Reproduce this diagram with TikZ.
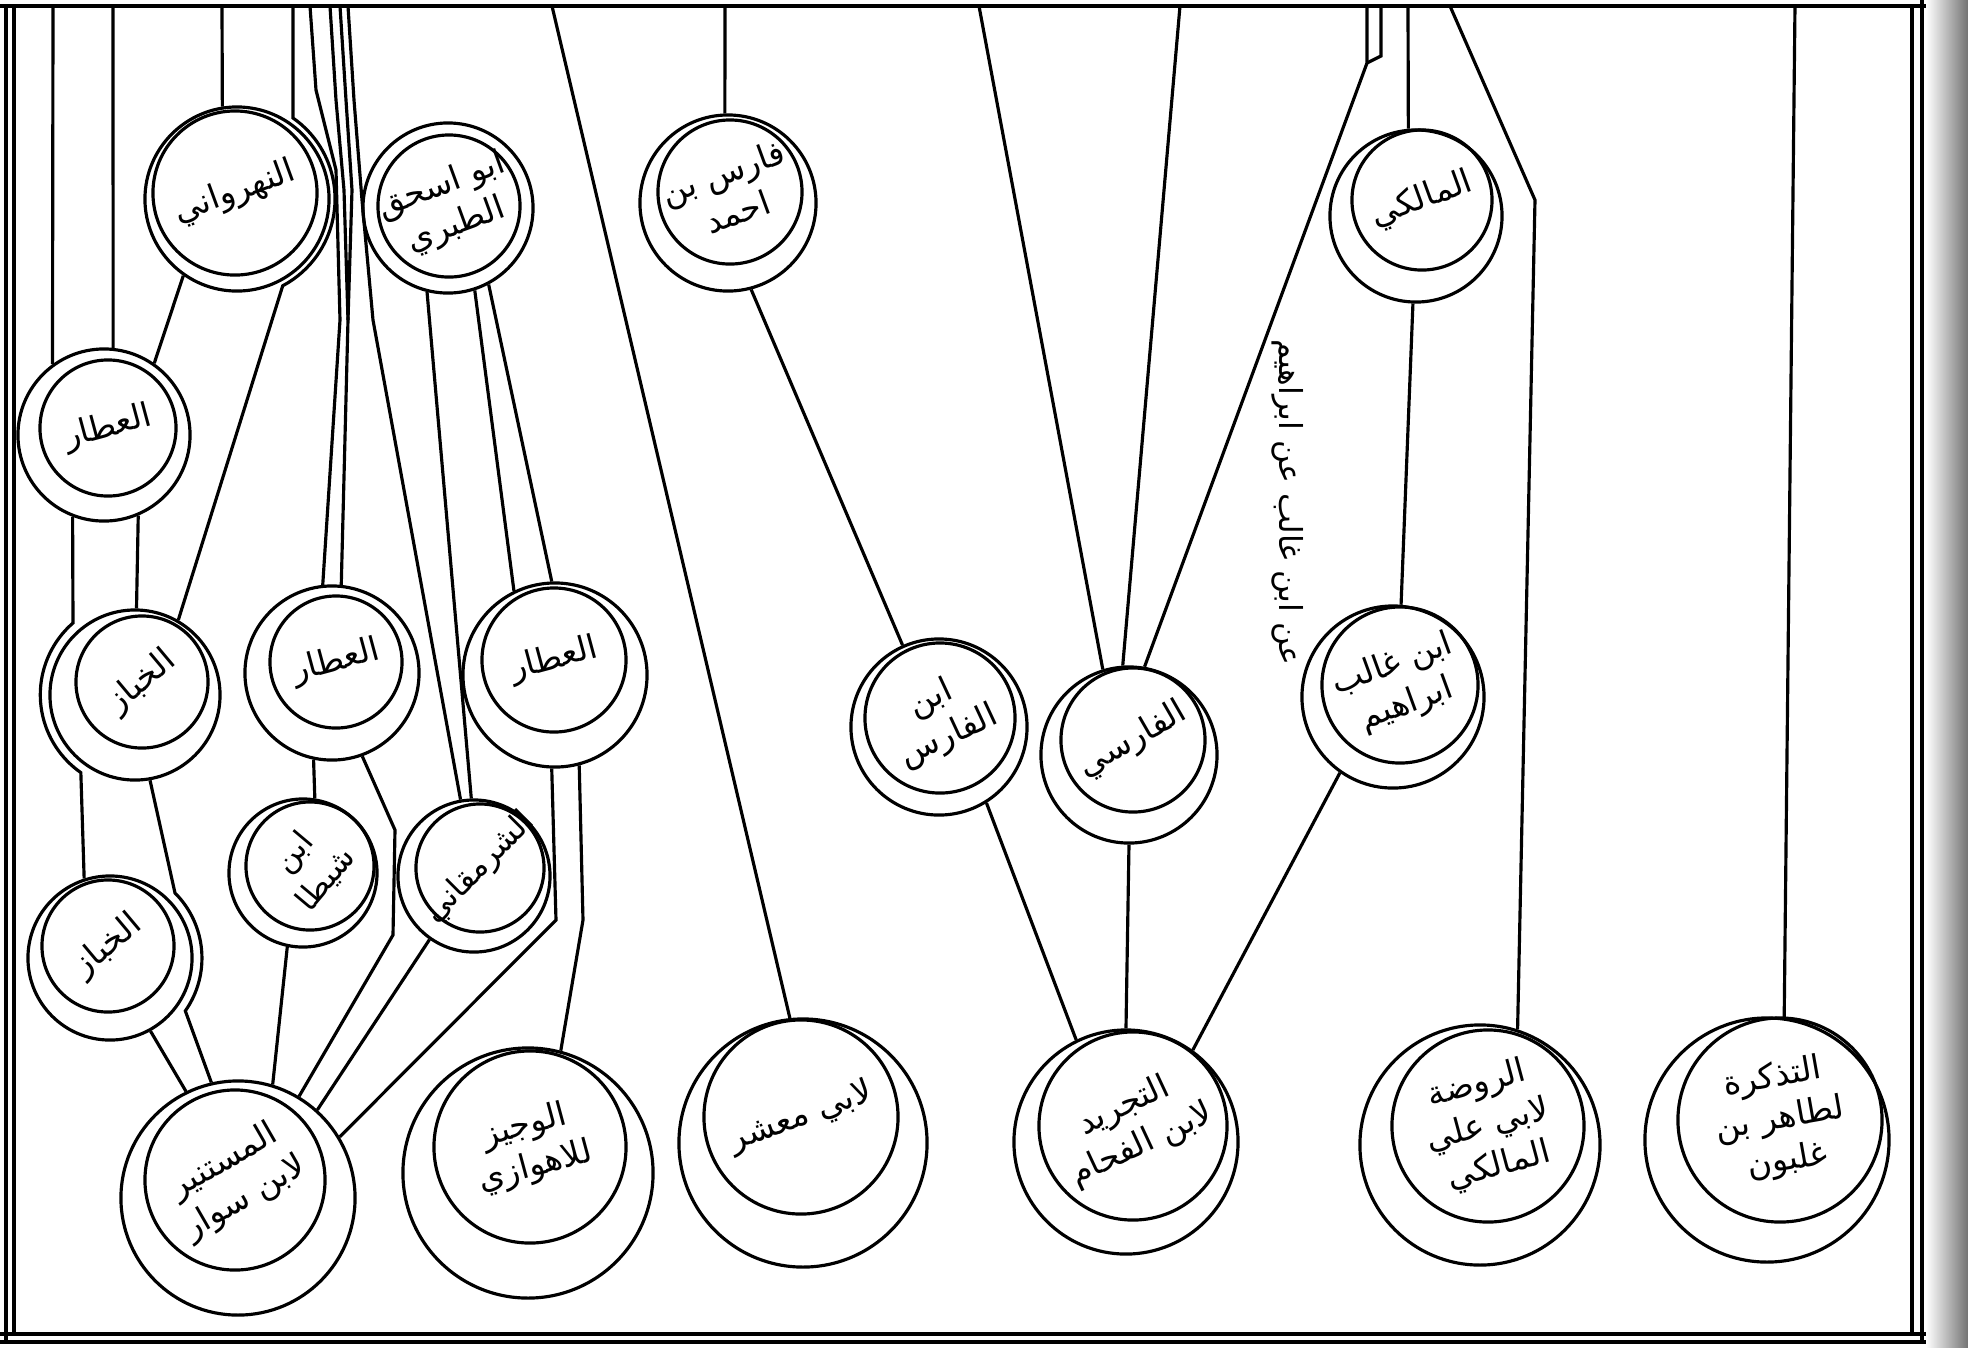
\documentclass[tikz,border=0pt]{standalone}
\usepackage{fontspec}
\newfontfamily\arabicfont[Script=Arabic]{DejaVu Sans}
\TeXXeTstate=1
\newcommand\ar[1]{\beginR #1\endR}
\newcommand\rondel[9]{%
  \node[ring, minimum size=#4] (#1) at (#2,#3) {};
  \node[ring, minimum size=#7] (#1i) at (#5,#6) {};
  \node[lbl, rotate=#9] (#1t) at (#5,#6) {#8};
}
\begin{document}
\begin{tikzpicture}[x=0.01cm,y=-0.01cm,
  ring/.style={draw, circle, inner sep=0pt, line width=0.9pt},
  lbl/.style={font=\arabicfont\fontsize{9.5}{12}\selectfont, align=center, inner sep=0pt},
  big/.style={font=\arabicfont\fontsize{10.5}{13.5}\selectfont},
  small/.style={font=\arabicfont\fontsize{8.5}{10.5}\selectfont},
  link/.style={line width=0.9pt},
  frame/.style={line width=1pt}]
\useasboundingbox (0,0) rectangle (1968,1347);
% scan edge
\shade[left color=white, right color=black!55] (1926,0) rectangle (1968,1347);
% frame
\draw[frame] (0,6) -- (1926,6);
\draw[frame] (6,6) -- (6,1342);
\draw[frame] (14,6) -- (14,1334);
\draw[frame] (0,1334) -- (1926,1334);
\draw[frame] (0,1342) -- (1926,1342);
\draw[frame] (1912,6) -- (1912,1334);
\draw[frame] (1922,0) -- (1922,1342);

% nodes
\rondel{nah}{237}{199}{1.84cm}{235}{193}{1.64cm}{\ar{النهرواني}}{20}
\rondel{tab}{448}{208}{1.70cm}{449}{206}{1.42cm}{\ar{ابو اسحق}\\\ar{الطبري}}{20}
\rondel{far}{728}{203}{1.76cm}{730}{192}{1.44cm}{\ar{فارس بن}\\\ar{احمد}}{20}
\rondel{mal}{1416}{216}{1.72cm}{1422}{200}{1.40cm}{\ar{المالكي}}{20}
\rondel{att1}{104}{435}{1.72cm}{108}{428}{1.36cm}{\ar{العطار}}{15}
\rondel{khb1}{135}{695}{1.70cm}{142}{682}{1.32cm}{\ar{الخباز}}{40}
\rondel{att2}{332}{673}{1.74cm}{336}{662}{1.32cm}{\ar{العطار}}{15}
\rondel{att3}{555}{675}{1.84cm}{554}{660}{1.44cm}{\ar{العطار}}{15}
\rondel{ibf}{939}{727}{1.76cm}{940}{718}{1.50cm}{\ar{ابن}\\\ar{الفارس}}{25}
\rondel{frs}{1129}{755}{1.76cm}{1133}{740}{1.44cm}{\ar{الفارسي}}{30}
\rondel{ghl}{1393}{697}{1.82cm}{1400}{685}{1.56cm}{\ar{ابن غالب}\\\ar{ابراهيم}}{20}
\rondel{shy}{303}{873}{1.48cm}{310}{866}{1.28cm}{\small\ar{ابن}\\\small\ar{شيطا}}{50}
\rondel{shr}{474}{876}{1.52cm}{480}{868}{1.28cm}{\small\ar{الشرمقاني}}{45}
\rondel{khb2}{110}{958}{1.64cm}{108}{946}{1.32cm}{\ar{الخباز}}{40}
\rondel{mus}{238}{1198}{2.34cm}{235}{1180}{1.80cm}{\ar{المستنير}\\\ar{لابن سوار}}{30}
\rondel{waj}{528}{1173}{2.50cm}{530}{1147}{1.92cm}{\ar{الوجيز}\\\ar{للاهوازي}}{15}
\rondel{mas}{803}{1143}{2.48cm}{801}{1117}{1.94cm}{\ar{لابي معشر}}{20}
\rondel{fah}{1126}{1142}{2.24cm}{1133}{1126}{1.88cm}{\ar{التجريد}\\\ar{لابن الفحام}}{25}
\rondel{raw}{1480}{1145}{2.40cm}{1488}{1126}{1.92cm}{\ar{الروضة}\\\ar{لابي علي}\\\ar{المالكي}}{15}
\rondel{tad}{1767}{1140}{2.44cm}{1780}{1120}{2.04cm}{\ar{التذكرة}\\\ar{لطاهر بن}\\\ar{غلبون}}{10}

% vertical note
\node[font=\arabicfont\fontsize{9}{11}\selectfont, rotate=-90, inner sep=0pt] (note) at (1288,502) {\ar{عن ابن غالب عن ابراهيم}};

% free ends on the top border
\foreach \n/\x in {t1/53,t2/113,t3/222,t4/293,t5/310,t6/330,t7/340,t8/348,t9/552,t10/725,t11/979,t12/1180,t13/1367,t14/1381,t15/1408,t16/1450,t17/1795}
  \coordinate (\n) at (\x,6);
% bend points
\coordinate (b4) at (293,118);
\coordinate (b5a) at (316,90);  \coordinate (b5b) at (336,170); \coordinate (b5c) at (340,320);
\coordinate (b6a) at (336,100); \coordinate (b6b) at (344,190); \coordinate (b6c) at (348,320);
\coordinate (b7a) at (346,100); \coordinate (b7b) at (352,190);
\coordinate (b8a) at (354,100); \coordinate (b8b) at (362,200); \coordinate (b8c) at (373,320);
\coordinate (b1a) at (73,623);
\coordinate (b22) at (175,893);
\coordinate (b13) at (1367,63);
\coordinate (b14) at (1381,56);
\coordinate (b16) at (1535,200);
\coordinate (b26a) at (395,830); \coordinate (b26b) at (393,935);
\coordinate (b28) at (556,920);
\coordinate (b29) at (583,920);

% connectors, left group
\draw[link] (t1) -- (att1.126);
\draw[link] (t2) -- (att1.84);
\draw[link] (nah.235) -- (att1.55);
\draw[link] (t3) -- (nah.99);
\draw[link] (t4) -- (b4) arc[start angle=55, end angle=-62, radius=0.985cm] -- (khb1.60);
\draw[link] (t5) -- (b5a) -- (b5b) -- (b5c) -- (att2.96);
\draw[link] (t6) -- (b6a) -- (b6b) -- (b6c) -- (att2.84);
\draw[link] (t7) -- (b7a) -- (b7b) -- (b6c);
\draw[link] (t8) -- (b8a) -- (b8b) -- (b8c) -- (shr.100);
\draw[link] (tab.-104) -- (shr.92);
\draw[link] (tab.-72) -- (att3.116);
\draw[link] (tab.-62) -- (att3.92);
\draw[link] (att1.-67) -- (khb1.89);
\draw[link] (att1.-111) -- (b1a) arc[start angle=131, end angle=235, radius=0.95cm] -- (khb2.108);
\draw[link] (khb1.-80) -- (b22) arc[start angle=45, end angle=-35, radius=0.92cm] -- (mus.103);
\draw[link] (khb2.-61) -- (mus.116);
\draw[link] (att2.-102) -- (shy.81);
\draw[link] (shy.-102) -- (mus.73);
\draw[link] (att2.-70) -- (b26a) -- (b26b) -- (mus.59);
\draw[link] (shr.-125) -- (mus.48);
\draw[link] (att3.-92) -- (b28) -- (mus.31);
\draw[link] (att3.-75) -- (b29) -- (waj.75);
\draw[link] (t9) -- (mas.96);

% connectors, right group
\draw[link] (t10) -- (far.92);
\draw[link] (far.-75) -- (ibf.114);
\draw[link] (t11) -- (frs.107);
\draw[link] (t12) -- (frs.94);
\draw[link] (t13) -- (b13) -- (frs.80);
\draw[link] (t14) -- (b14) -- (b13);
\draw[link] (t15) -- (mal.95);
\draw[link] (mal.-92) -- (ghl.85);
\draw[link] (t16) -- (b16) -- (raw.72);
\draw[link] (t17) -- (tad.82);
\draw[link] (frs.-90) -- (fah.90);
\draw[link] (ibf.-58) -- (fah.116);
\draw[link] (ghl.-125) -- (fah.54);
\end{tikzpicture}
\end{document}
